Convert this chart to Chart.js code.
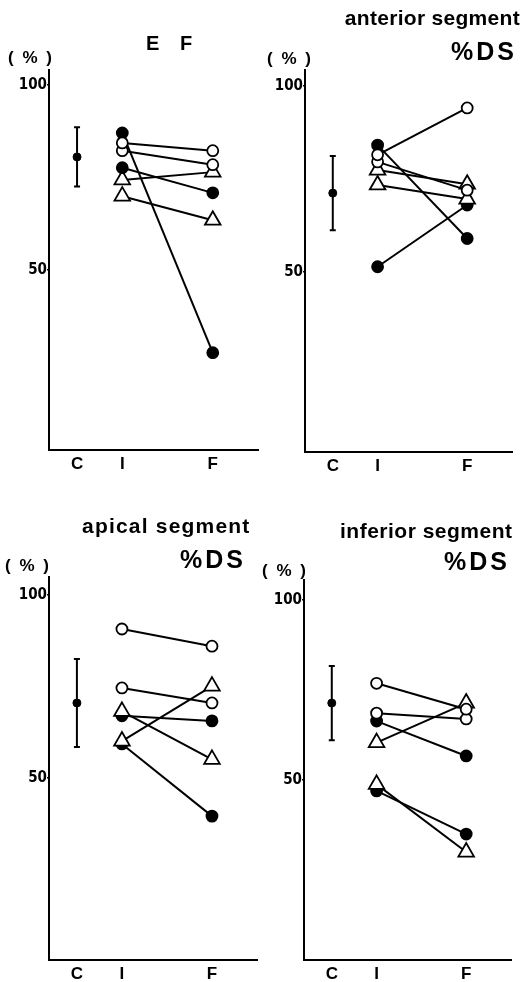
<!DOCTYPE html>
<html>
<head>
<meta charset="utf-8">
<script src="https://cdn.jsdelivr.net/npm/chart.js@4.4.1/dist/chart.umd.min.js"></script>
<style>
  body { margin: 0; background: #fff; }
  #page { position: relative; width: 523px; height: 982px; overflow: hidden; }
  canvas { position: absolute; }
  .txt { position: absolute; font-family: "Liberation Sans", Arial, sans-serif; font-weight: bold; color: #000; line-height: 1; white-space: nowrap; }
  .title { font-size: 21px; letter-spacing: 0.3px; }
  .ds { font-size: 25px; letter-spacing: 3px; }
  .pct { font-size: 17px; letter-spacing: 2px; }
</style>
</head>
<body>
<div id="page">
  <canvas id="efChart"></canvas>
  <canvas id="anteriorChart"></canvas>
  <canvas id="apicalChart"></canvas>
  <canvas id="inferiorChart"></canvas>

  <div class="txt pct" style="left:8px; top:49px;">( % )</div>
  <div class="txt" style="left:146px; top:33px; font-size:20px; word-spacing:15px;">E F</div>

  <div class="txt pct" style="left:267px; top:50px;">( % )</div>
  <div class="txt title" style="right:3px; top:7px;">anterior segment</div>
  <div class="txt ds" style="right:6px; top:39px;">%DS</div>

  <div class="txt pct" style="left:5px; top:557px;">( % )</div>
  <div class="txt title" style="left:82px; top:515px; letter-spacing:1.2px;">apical segment</div>
  <div class="txt ds" style="left:180px; top:547px;">%DS</div>

  <div class="txt pct" style="left:262px; top:562px;">( % )</div>
  <div class="txt title" style="left:340px; top:520px; letter-spacing:0.5px;">inferior segment</div>
  <div class="txt ds" style="left:444px; top:549px;">%DS</div>
</div>

<script>
// Données
const xLabels = ['C', 'I', 'F'];
const xPositions = [1, 2, 4];
const yTicks = [50, 100];

// Ejection fraction
const efControl = [80.5, 8];              // moyenne, écart-type
const efInitial = [84.3, 82.2, 77.6, 74.3, 69.9, 87];
const efFinal   = [82.2, 78.4, 70.8, 76.4, 63.4, 27.6];
const efMarkers = ['open', 'open', 'filled', 'triangle', 'triangle', 'filled'];

// anterior segment %DS
const anteriorControl = [71.2, 10];
const anteriorInitial = [81.5, 84.1, 79.6, 77.4, 73.4, 51.4];
const anteriorFinal   = [94.1, 59, 72, 73.6, 69.6, 68];
const anteriorMarkers = ['open', 'filled', 'open', 'triangle', 'triangle', 'filled'];

// apical segment %DS
const apicalControl = [70.5, 12];
const apicalInitial = [90.7, 74.6, 68.2, 67, 60.1, 59.3];
const apicalFinal   = [86, 70.5, 55.1, 65.6, 75.1, 39.6];
const apicalMarkers = ['open', 'open', 'triangle', 'filled', 'triangle', 'filled'];

// inferior segment %DS
const inferiorControl = [71.4, 10.3];
const inferiorInitial = [76.9, 68.6, 66.4, 60.4, 48.8, 47];
const inferiorFinal   = [69.7, 67, 56.7, 71.4, 30, 35];
const inferiorMarkers = ['open', 'open', 'filled', 'triangle', 'triangle', 'filled'];

// Barre d'erreur du groupe contrôle
const errorBarPlugin = {
    id: 'errorBar',
    afterDatasetsDraw: (chart, args, opts) => {
        const { ctx, scales: { x, y } } = chart;
        const px = x.getPixelForValue(xPositions[0]);
        const top = y.getPixelForValue(opts.mean + opts.sd);
        const bottom = y.getPixelForValue(opts.mean - opts.sd);
        ctx.save();
        ctx.strokeStyle = '#000';
        ctx.lineWidth = 2;
        ctx.beginPath();
        ctx.moveTo(px, top); ctx.lineTo(px, bottom);
        ctx.moveTo(px - 3, top); ctx.lineTo(px + 3, top);
        ctx.moveTo(px - 3, bottom); ctx.lineTo(px + 3, bottom);
        ctx.stroke();
        ctx.restore();
    }
};

function markerStyle(kind) {
    if (kind === 'triangle') {
        return { pointStyle: 'triangle', pointRadius: 9, pointBackgroundColor: '#fff' };
    }
    return {
        pointStyle: 'circle',
        pointRadius: 5.5,
        pointBackgroundColor: kind === 'filled' ? '#000' : '#fff'
    };
}

function makePanel(id, box, area, yRange, control, initial, final, markers) {
    const canvas = document.getElementById(id);
    canvas.width = box.width;
    canvas.height = box.height;
    canvas.style.left = box.left + 'px';
    canvas.style.top = box.top + 'px';
    canvas.style.width = box.width + 'px';
    canvas.style.height = box.height + 'px';

    const datasets = initial.map((v, i) => Object.assign({
        data: [{ x: xPositions[1], y: v }, { x: xPositions[2], y: final[i] }],
        borderColor: '#000',
        borderWidth: 2,
        pointBorderColor: '#000',
        pointBorderWidth: 1.8,
        showLine: true
    }, markerStyle(markers[i])));

    datasets.push({
        data: [{ x: xPositions[0], y: control[0] }],
        pointStyle: 'circle',
        pointRadius: 4,
        pointBackgroundColor: '#000',
        pointBorderColor: '#000',
        showLine: false
    });

    const target = {
        left: area.left - box.left,
        top: area.top - box.top,
        right: area.right - box.left,
        bottom: area.bottom - box.top
    };

    const chart = new Chart(canvas, {
        type: 'scatter',
        data: { datasets: datasets },
        plugins: [errorBarPlugin],
        options: {
            responsive: false,
            animation: false,
            layout: {
                padding: { top: target.top, right: box.width - target.right, left: 0, bottom: 0 }
            },
            plugins: {
                legend: { display: false },
                tooltip: { enabled: false },
                errorBar: { mean: control[0], sd: control[1] }
            },
            scales: {
                x: {
                    type: 'linear',
                    min: 0.38,
                    max: 5.0,
                    afterBuildTicks: (scale) => {
                        scale.ticks = xPositions.map(v => ({ value: v }));
                    },
                    afterFit: (scale) => {
                        scale.height = box.height - target.bottom;
                        scale.paddingRight = 0;
                        scale.paddingLeft = 0;
                    },
                    ticks: {
                        autoSkip: false,
                        maxRotation: 0,
                        padding: 4,
                        color: '#000',
                        font: { family: "'Liberation Sans', Arial, sans-serif", weight: 'bold', size: 17 },
                        callback: (value, index) => xLabels[index]
                    },
                    grid: { display: false, drawTicks: false },
                    border: { display: true, color: '#000', width: 2 }
                },
                y: {
                    min: yRange[0],
                    max: yRange[1],
                    afterBuildTicks: (scale) => {
                        scale.ticks = yTicks.map(v => ({ value: v }));
                    },
                    afterFit: (scale) => {
                        scale.width = target.left;
                    },
                    ticks: {
                        padding: 0,
                        color: '#000',
                        font: { family: "'DejaVu Sans Condensed', 'Liberation Sans', sans-serif", weight: 'bold', size: 15 }
                    },
                    grid: {
                        drawOnChartArea: false,
                        drawTicks: true,
                        tickLength: 2,
                        color: '#000',
                        lineWidth: 1.5
                    },
                    border: { display: true, color: '#000', width: 2 }
                }
            }
        }
    });

    // recale la zone de tracé sur l'original
    const ca = chart.chartArea;
    const pad = chart.config.options.layout.padding;
    if (Math.abs(ca.right - target.right) > 0.5 || Math.abs(ca.top - target.top) > 0.5) {
        pad.right = Math.max(pad.right + ca.right - target.right, 0);
        pad.top += target.top - ca.top;
        chart.update();
    }
}

// les cadres de gauche débordent un peu à droite (canevas transparents)
makePanel('efChart',
    { left: 0, top: 0, width: 275, height: 480 },
    { left: 49, top: 70, right: 258, bottom: 450 },
    [1.3, 104], efControl, efInitial, efFinal, efMarkers);

makePanel('anteriorChart',
    { left: 262, top: 0, width: 261, height: 480 },
    { left: 305, top: 70, right: 512, bottom: 452 },
    [1.6, 104.3], anteriorControl, anteriorInitial, anteriorFinal, anteriorMarkers);

makePanel('apicalChart',
    { left: 0, top: 500, width: 275, height: 482 },
    { left: 49, top: 577, right: 257, bottom: 960 },
    [0.3, 104.9], apicalControl, apicalInitial, apicalFinal, apicalMarkers);

makePanel('inferiorChart',
    { left: 262, top: 500, width: 261, height: 482 },
    { left: 304, top: 580, right: 511, bottom: 960 },
    [0, 105.6], inferiorControl, inferiorInitial, inferiorFinal, inferiorMarkers);
</script>
</body>
</html>
